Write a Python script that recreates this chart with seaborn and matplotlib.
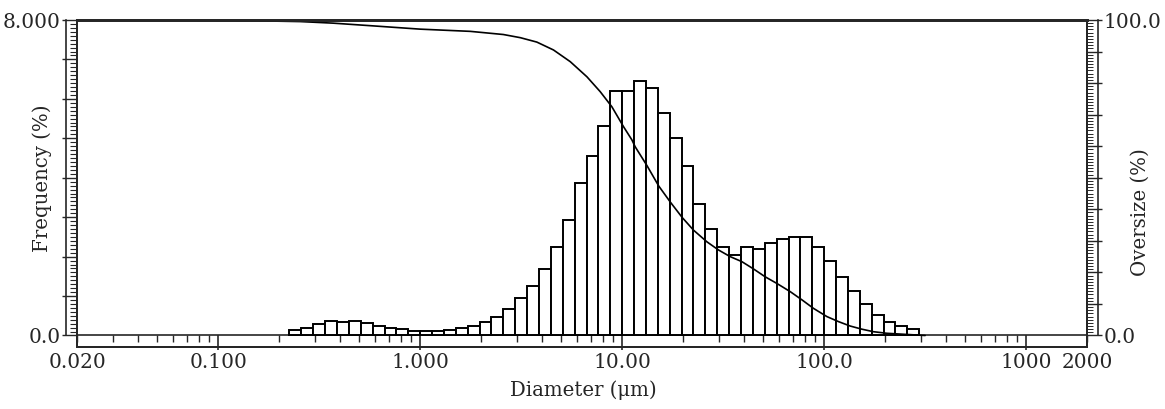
import numpy as np
import matplotlib
matplotlib.use('Agg')
import matplotlib.pyplot as plt
from matplotlib.ticker import FixedLocator, FuncFormatter, LogLocator, NullLocator
import seaborn as sns

# ── Data ──────────────────────────────────────────────────────────────────────
# channel edges in µm, 17 channels per decade
bin_edges_um = [0.2254, 0.2581, 0.2955, 0.3384, 0.3875, 0.4437, 0.5081, 0.5818,
                0.6661, 0.7628, 0.8733, 1.000, 1.1450, 1.3111, 1.5013, 1.7191,
                1.9684, 2.2539, 2.5808, 2.9551, 3.3838, 3.8746, 4.4366, 5.0801,
                5.8170, 6.6608, 7.6270, 8.7333, 10.000, 11.450, 13.111, 15.013,
                17.191, 19.684, 22.539, 25.808, 29.551, 33.838, 38.746, 44.366,
                50.801, 58.170, 66.608, 76.270, 87.333, 100.00, 114.50, 131.11,
                150.13, 171.91, 196.84, 225.39, 258.08, 295.51]

freq_pct = [0.14, 0.19, 0.28, 0.36, 0.35, 0.36, 0.31, 0.25, 0.19, 0.17, 0.11,
            0.11, 0.11, 0.13, 0.19, 0.25,
            0.35, 0.48, 0.67, 0.94, 1.25, 1.69, 2.24, 2.93, 3.86, 4.55, 5.31,
            6.21, 6.21, 6.45, 6.27, 5.63, 5.00, 4.30, 3.33, 2.69, 2.24, 2.04,
            2.24, 2.19, 2.34, 2.45, 2.51, 2.51, 2.24, 1.89, 1.49, 1.13, 0.79,
            0.52, 0.34, 0.24, 0.16]

# cumulative oversize curve
curve_um = [0.056, 0.139, 0.255, 0.371, 0.566, 1.00, 1.77, 2.58, 3.13, 3.78,
            4.57, 5.53, 6.69, 7.78, 8.89, 10.15, 11.17, 11.60, 13.25, 15.16,
            17.35, 19.82, 22.54, 26.26, 29.98, 34.25, 39.14, 44.67, 51.05, 58.3,
            67.9, 77.6, 88.5, 103.1, 117.7, 134.5, 153.7, 175.4, 204.3, 246.0,
            316.0]
curve_oversize = [100.0, 99.8, 99.5, 99.0, 98.2, 97.1, 96.4, 95.4, 94.4, 93.0,
                  90.5, 86.8, 82.0, 77.3, 72.5, 66.2, 62.0, 59.8, 53.9, 47.4,
                  42.2, 37.4, 33.4, 29.7, 27.1, 25.0, 23.4, 21.1, 18.6, 16.5,
                  13.9, 11.3, 8.6, 6.0, 4.4, 3.0, 2.0, 1.2, 0.7, 0.4,
                  0.0]

x_tick_vals = [0.02, 0.1, 1, 10, 100, 1000, 2000]
x_tick_lbls = ['0.020', '0.100', '1.000', '10.00', '100.0', '1000', '2000']

# ── Style ─────────────────────────────────────────────────────────────────────
sns.set_style('ticks')
plt.rcParams['font.family'] = ['DejaVu Serif']
plt.rcParams['axes.linewidth'] = 1.4
TICK_FS = 14.5
LABEL_FS = 14.2

fig = plt.figure(figsize=(11.65, 4.09), dpi=100)
ax = fig.add_axes([77 / 1165, 1 - 346.5 / 409, 1010 / 1165, 326.5 / 409])

YLO = -0.279
edges = np.array(bin_edges_um)
centers = np.sqrt(edges[:-1] * edges[1:])
sns.histplot(x=centers, weights=freq_pct, bins=list(np.log10(edges)), log_scale=True,
             stat='count', fill=True, color='white', edgecolor='black',
             linewidth=1.4, alpha=1, ax=ax)
ax.set_xlim(0.02, 2000)
ax.set_ylim(YLO, 8)

# bottom labels (no ticks on the frame itself)
ax.xaxis.set_major_locator(FixedLocator(x_tick_vals))
ax.xaxis.set_major_formatter(FuncFormatter(
    lambda v, p: x_tick_lbls[min(range(len(x_tick_vals)),
                                 key=lambda i: abs(np.log10(x_tick_vals[i]) - np.log10(v)))]))
ax.xaxis.set_minor_locator(NullLocator())
ax.tick_params(axis='x', which='both', length=0, pad=5, labelsize=TICK_FS)

# zero line with hanging ticks
frac0 = (0 - YLO) / (8 - YLO)
sec = ax.secondary_xaxis(frac0)
sec.xaxis.set_major_locator(FixedLocator([0.1, 1, 10, 100, 1000]))
sec.xaxis.set_minor_locator(LogLocator(base=10, subs=np.arange(2, 10), numticks=50))
sec.tick_params(which='major', direction='out', length=11, width=1.2, labelbottom=False, labeltop=False)
sec.tick_params(which='minor', direction='out', length=5, width=1.0, labelbottom=False, labeltop=False)
sec.xaxis.set_major_formatter(FuncFormatter(lambda v, p: ''))
sec.xaxis.set_minor_formatter(FuncFormatter(lambda v, p: ''))
for s in sec.spines.values():
    s.set_linewidth(1.2)

# left ruler
ax.yaxis.set_major_locator(FixedLocator(range(0, 9)))
ax.yaxis.set_minor_locator(FixedLocator(np.arange(0, 8.01, 0.1)))
ax.yaxis.set_major_formatter(FuncFormatter(
    lambda v, p: '8.000' if abs(v - 8) < 1e-6 else ('0.0' if abs(v) < 1e-6 else '')))
ax.tick_params(axis='y', which='major', direction='out', length=11, width=1.0,
               pad=1, labelsize=TICK_FS)
ax.tick_params(axis='y', which='minor', direction='out', length=5, width=0.8)
secL = ax.secondary_yaxis(-11 / 1010)
secL.yaxis.set_major_locator(NullLocator())
secL.tick_params(length=0, labelleft=False, labelright=False)
for s in secL.spines.values():
    s.set_bounds(0, 8)
    s.set_linewidth(1.2)

ax.set_ylabel('Frequency (%)', fontsize=LABEL_FS)
ax.yaxis.set_label_coords(-0.0248, 0.516)
ax.set_xlabel('Diameter (\u03bcm)', fontsize=LABEL_FS)
ax.xaxis.set_label_coords(0.501, -0.1026)
ax.spines['top'].set_linewidth(2.0)

# right axis + oversize curve
twin = ax.twinx()
sns.lineplot(x=curve_um, y=curve_oversize, ax=twin, color='black', linewidth=1.2)
twin.set_xlim(0.02, 2000)
twin.set_ylim(YLO * 12.5, 100)
twin.yaxis.set_major_locator(FixedLocator(range(0, 101, 10)))
twin.yaxis.set_minor_locator(FixedLocator(np.arange(0, 100.1, 1)))
twin.yaxis.set_major_formatter(FuncFormatter(
    lambda v, p: '100.0' if abs(v - 100) < 1e-6 else ('0.0' if abs(v) < 1e-6 else '')))
twin.tick_params(axis='y', which='major', direction='out', length=11, width=1.0,
                 pad=1, labelsize=TICK_FS)
twin.tick_params(axis='y', which='minor', direction='out', length=4, width=0.7)
secR = twin.secondary_yaxis(1 + 11 / 1010)
secR.yaxis.set_major_locator(NullLocator())
secR.tick_params(length=0, labelleft=False, labelright=False)
for s in secR.spines.values():
    s.set_bounds(0, 100)
    s.set_linewidth(1.2)
twin.set_ylabel('Oversize (%)', fontsize=LABEL_FS)
twin.yaxis.set_label_coords(1.0436, 0.412)
twin.spines['top'].set_linewidth(2.0)

fig.savefig('out.png', dpi=100, facecolor='white')
